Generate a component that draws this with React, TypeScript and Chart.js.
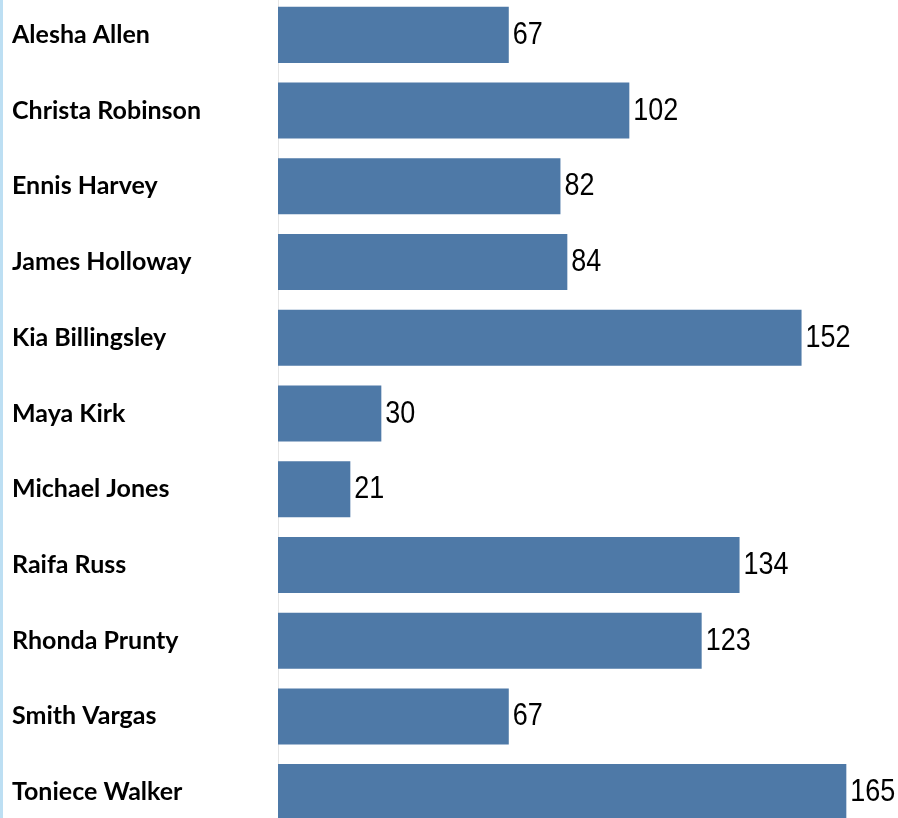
import React, { useEffect, useRef } from "react";
import { Chart, registerables } from "chart.js";

Chart.register(...registerables);

const names: string[] = [
  "Alesha Allen",
  "Christa Robinson",
  "Ennis Harvey",
  "James Holloway",
  "Kia Billingsley",
  "Maya Kirk",
  "Michael Jones",
  "Raifa Russ",
  "Rhonda Prunty",
  "Smith Vargas",
  "Toniece Walker",
];

const counts: number[] = [67, 102, 82, 84, 152, 30, 21, 134, 123, 67, 165];

const xMin = 0;
const xMax = 180;

const valueLabels = {
  id: "valueLabels",
  afterDatasetsDraw(chart: any) {
    const ctx = chart.ctx;
    const meta = chart.getDatasetMeta(0);
    const sx = 0.87;
    ctx.save();
    ctx.font = '31px "Liberation Sans", Arial, sans-serif';
    ctx.fillStyle = "#000000";
    ctx.textAlign = "left";
    ctx.textBaseline = "alphabetic";
    meta.data.forEach((bar: any, i: number) => {
      const v = chart.data.datasets[0].data[i];
      ctx.save();
      ctx.translate(bar.x + 4, bar.y + 9);
      ctx.scale(sx, 1);
      ctx.fillText(String(v), 0, 0);
      ctx.restore();
    });
    ctx.restore();
  },
};

export default function App() {
  const ref = useRef<HTMLCanvasElement | null>(null);

  useEffect(() => {
    if (!ref.current) return;
    const chart = new Chart(ref.current, {
      type: "bar",
      data: {
        labels: names,
        datasets: [
          {
            data: counts,
            backgroundColor: "#4e79a7",
            borderWidth: 0,
            categoryPercentage: 1,
            barPercentage: 0.74,
          },
        ],
      },
      options: {
        indexAxis: "y",
        responsive: false,
        animation: false,
        layout: { padding: { left: 12, right: 0, top: 0, bottom: 0 } },
        plugins: {
          legend: { display: false },
          tooltip: { enabled: false },
        },
        scales: {
          x: {
            display: false,
            min: xMin,
            max: xMax,
          },
          y: {
            type: "category",
            grid: { display: false, drawTicks: false },
            border: { display: true, color: "#e6e6e6", width: 1 },
            ticks: {
              crossAlign: "far",
              color: "#000000",
              padding: 0,
              font: { family: "Lato", size: 25, weight: "bold" },
            },
            afterFit(scale: any) {
              scale.width = 266;
              scale.paddingTop = 0;
              scale.paddingBottom = 0;
            },
          },
        },
      },
      plugins: [valueLabels],
    });
    return () => chart.destroy();
  }, []);

  return (
    <div
      style={{
        position: "fixed",
        left: 0,
        top: 0,
        width: 898,
        height: 818,
        overflow: "hidden",
        background: "#ffffff",
      }}
    >
      <div style={{ position: "absolute", left: 0, top: -3 }}>
        <canvas ref={ref} width={898} height={833} style={{ display: "block" }} />
      </div>
      <div
        style={{
          position: "absolute",
          left: 0,
          top: 0,
          width: 3,
          height: 818,
          background: "#bddff3",
        }}
      />
    </div>
  );
}
